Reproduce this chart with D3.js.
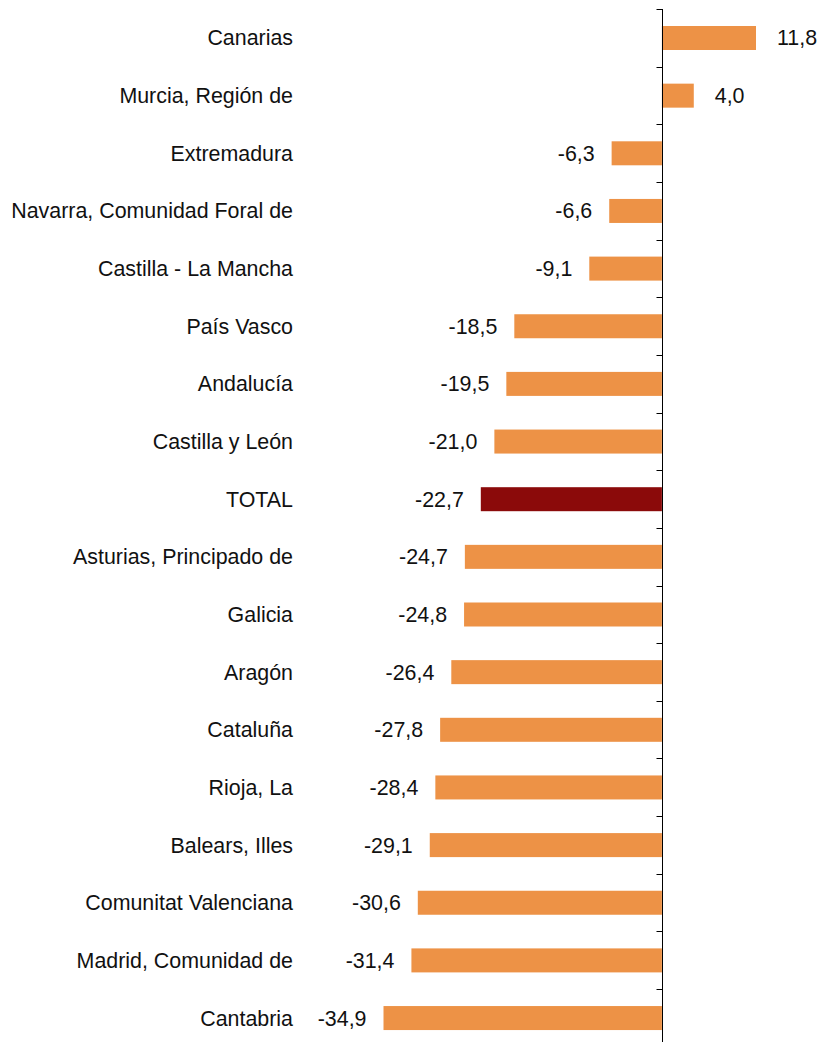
<!DOCTYPE html>
<html>
<head>
<meta charset="utf-8">
<script src="https://cdn.jsdelivr.net/npm/d3@7"></script>
<style>
  html, body { margin: 0; padding: 0; background: #fff; }
  svg { display: block; font-family: "Liberation Sans", Arial, sans-serif; }
</style>
</head>
<body>
<svg id="chart"></svg>
<script>
// regions, top to bottom
const regions = [
  'Canarias', 'Murcia, Región de', 'Extremadura', 'Navarra, Comunidad Foral de',
  'Castilla - La Mancha', 'País Vasco', 'Andalucía', 'Castilla y León', 'TOTAL',
  'Asturias, Principado de', 'Galicia', 'Aragón', 'Cataluña', 'Rioja, La',
  'Balears, Illes', 'Comunitat Valenciana', 'Madrid, Comunidad de', 'Cantabria'
];
const values = [11.8, 4.0, -6.3, -6.6, -9.1, -18.5, -19.5, -21.0, -22.7,
  -24.7, -24.8, -26.4, -27.8, -28.4, -29.1, -30.6, -31.4, -34.9];
const highlight = ['TOTAL'];

const W = 821, H = 1042;
const plotTop = 9, step = 57.65;

const svg = d3.select('#chart').attr('width', W).attr('height', H);

const x = d3.scaleLinear().domain([-34.9, 11.8]).range([383.5, 756]);
const yb = d3.scaleBand().domain(regions).range([plotTop, plotTop + step * regions.length]);

// Spanish decimal comma, plain hyphen for minus
const fmt = d => d3.format('.1f')(d).replace('.', ',').replace('\u2212', '-');

// bars
svg.append('g').selectAll('rect')
  .data(regions)
  .enter().append('rect')
  .attr('x', (d, i) => Math.min(x(0), x(values[i])))
  .attr('width', (d, i) => Math.abs(x(values[i]) - x(0)))
  .attr('y', d => yb(d) + 17)
  .attr('height', 24)
  .attr('fill', d => highlight.includes(d) ? '#8b0a0a' : '#ed9246');

// value labels
svg.append('g').selectAll('text')
  .data(regions)
  .enter().append('text')
  .attr('x', (d, i) => values[i] >= 0 ? x(values[i]) + 21 : x(values[i]) - 17)
  .attr('y', d => yb(d) + 29)
  .attr('dy', '0.35em')
  .attr('text-anchor', (d, i) => values[i] >= 0 ? 'start' : 'end')
  .attr('font-size', 21.4)
  .attr('fill', '#111')
  .text((d, i) => fmt(values[i]));

// category labels
svg.append('g').selectAll('text')
  .data(regions)
  .enter().append('text')
  .attr('x', 293)
  .attr('y', d => yb(d) + 29)
  .attr('dy', '0.35em')
  .attr('text-anchor', 'end')
  .attr('font-size', 21.4)
  .attr('fill', '#111')
  .text(d => d);

// axis at zero with ticks at band boundaries
const ax = svg.append('g').attr('transform', `translate(${Math.round(x(0)) + 0.5},0)`);
ax.append('line').attr('y1', plotTop).attr('y2', H).attr('stroke', '#000').attr('stroke-width', 1);
const bounds = regions.map(d => yb(d));
ax.selectAll('line.tick')
  .data(bounds)
  .enter().append('line')
  .attr('class', 'tick')
  .attr('x1', -6).attr('x2', 0)
  .attr('y1', d => Math.round(d) + 0.5).attr('y2', d => Math.round(d) + 0.5)
  .attr('stroke', '#000');
</script>
</body>
</html>
